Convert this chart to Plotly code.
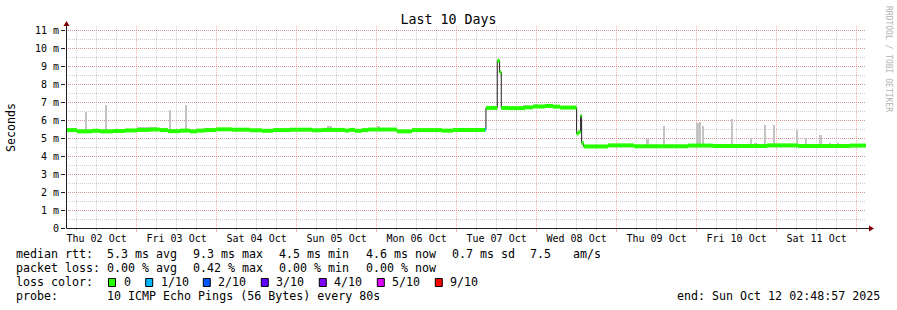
import plotly.graph_objects as go
import pandas as pd

# ---------------- data ----------------
BASE = pd.Timestamp("2025-10-02 00:00:00")
START = pd.Timestamp("2025-10-02 02:48:57")
END = pd.Timestamp("2025-10-12 02:48:57")

# median rtt steps: start (hours since Thu 02 Oct 00:00), median (ms), loss (tenths)
med_hours = [2.82, 6.1, 10.6, 13.0, 16.9, 20.5,
             24.1, 28.0, 31.0, 33.4, 37.0, 40.0, 42.1, 44.5,
             47.8, 52.6, 58.0, 61.6, 64.9, 70.0, 76.6, 79.6, 86.5, 87.7, 89.5, 91.6,
             93.4, 102.1, 106.6, 115.6, 118.9, 128.5,
             128.8, 132.2, 132.9, 133.4, 136.0, 140.5, 142.9, 146.5, 148.9, 151.0,
             156.0, 156.6, 157.2, 157.5, 158.1,
             165.4, 173.2, 189.4, 196.9, 213.1, 222.4, 238.0]
med_ms = [5.44, 5.37, 5.40, 5.37, 5.39, 5.42,
          5.45, 5.47, 5.44, 5.38, 5.41, 5.37, 5.41, 5.44,
          5.48, 5.46, 5.43, 5.40, 5.44, 5.46, 5.43, 5.45, 5.41, 5.45, 5.40, 5.44,
          5.47, 5.37, 5.44, 5.41, 5.45, 5.47,
          6.67, 9.29, 8.65, 6.67, 6.66, 6.70, 6.75, 6.78, 6.74, 6.69,
          5.25, 5.34, 6.24, 4.72, 4.53,
          4.59, 4.54, 4.58, 4.55, 4.59, 4.55, 4.58]
med_loss = [0] * len(med_ms)
med_loss[31] = 1

# smoke (ping spread): start hour, end hour, top (ms)
smoke_start = [8.8, 14.5, 33.7, 38.5, 24.1, 26.5, 43.9, 49.9, 54.7, 66.4, 73.6, 81.1,
               85.0, 96.1, 97.0, 121.0, 139.9, 143.5, 148.0, 169.9, 176.8, 181.9,
               191.8, 192.7, 193.6, 197.5, 200.2, 202.3, 208.0, 209.2, 212.5, 215.2,
               222.1, 224.8, 228.7, 232.0, 234.4, 236.5]
smoke_end = [9.1, 15.1, 34.3, 39.1, 30.1, 27.4, 48.1, 52.0, 55.6, 67.6, 75.4, 82.6,
             85.6, 97.0, 100.9, 124.0, 141.1, 144.4, 148.9, 170.8, 177.7, 182.5,
             192.7, 193.3, 194.2, 197.8, 201.1, 202.9, 208.6, 210.1, 212.8, 215.5,
             222.4, 225.1, 229.6, 232.3, 234.7, 236.8]
smoke_top = [6.42, 6.85, 6.57, 6.85, 5.59, 5.63, 5.55, 5.57, 5.57, 5.58, 5.57, 5.64,
             5.57, 5.64, 5.58, 5.56, 6.85, 6.90, 6.85, 4.69, 4.95, 5.64,
             5.83, 5.89, 5.64, 4.68, 4.68, 6.07, 4.98, 4.70, 5.74, 5.74,
             5.42, 5.00, 5.18, 4.70, 4.70, 4.68]

y_ticks = list(range(12))
y_ticktext = ["0"] + [f"{v} m" for v in range(1, 12)]

rtt_label = "median rtt:"
rtt_stats = ["5.3 ms avg", "9.3 ms max", "4.5 ms min", "4.6 ms now", "0.7 ms sd", "7.5", "am/s"]
loss_label = "packet loss:"
loss_stats = ["0.00 % avg", "0.42 % max", "0.00 % min", "0.00 % now"]
color_label = "loss color:"
loss_levels = ["0", "1/10", "2/10", "3/10", "4/10", "5/10", "9/10"]
loss_colors = ["#26ff00", "#00b8ff", "#0059ff", "#5e00ff", "#7e00ff", "#dd00ff", "#ff0000"]
probe_label = "probe:"
probe_text = "10 ICMP Echo Pings (56 Bytes) every 80s"
end_text = "end: Sun Oct 12 02:48:57 2025"

# ---------------- geometry helpers (layout only) ----------------
W, H = 897, 310
L, R, T, B = 66, 31, 26, 82
PW, PH = W - L - R, H - T - B


def px(x):
    return (x - L) / PW


def py(y):
    return (H - B - y) / PH


MONO = "DejaVu Sans Mono"
MAJ = "rgba(222,80,80,0.45)"
MIN = "rgba(143,143,143,0.42)"

fig = go.Figure()

# smoke
def med_at(h):
    v = med_ms[0]
    for hh, mv in zip(med_hours, med_ms):
        if hh <= h:
            v = mv
    return v

sx, sw, sb, sy = [], [], [], []
for s, e, top in zip(smoke_start, smoke_end, smoke_top):
    mid = (s + e) / 2
    base = med_at(mid)
    sx.append(BASE + pd.Timedelta(hours=mid))
    sw.append((e - s) * 3600 * 1000)
    sb.append(base)
    sy.append(top - base)
fig.add_trace(go.Bar(x=sx, y=sy, base=sb, width=sw, marker=dict(color="#c4c4c4", line=dict(width=0)),
                     hoverinfo="skip"))

# median dark line
times = [BASE + pd.Timedelta(hours=h) for h in med_hours] + [END]
fig.add_trace(go.Scatter(x=times, y=med_ms + [med_ms[-1]], mode="lines", line=dict(color="#202020", width=1, shape="hv"),
                         hoverinfo="skip"))

# median band coloured by loss
for lvl, col in enumerate(loss_colors):
    xs, ys = [], []
    for i, (v, ls) in enumerate(zip(med_ms, med_loss)):
        if ls != lvl:
            continue
        xs += [times[i], times[i + 1], None]
        ys += [v, v, None]
    if xs:
        fig.add_trace(go.Scatter(x=xs, y=ys, mode="lines", line=dict(color=col, width=4), hoverinfo="skip"))

fig.update_layout(
    width=W, height=H, margin=dict(l=L, r=R, t=T, b=B),
    paper_bgcolor="white", plot_bgcolor="white", showlegend=False,
    barmode="overlay", bargap=0,
    font=dict(family=MONO, size=10, color="black"),
    title=dict(text="Last 10 Days", x=0.5, xanchor="center", y=1 - 19 / H, yanchor="middle",
               font=dict(family=MONO, size=13.3, color="black")),
    xaxis=dict(type="date", range=[START, END], tick0="2025-10-02", dtick=86400000,
               ticklabelmode="period", tickformat="%a %d %b", ticklabelstandoff=-2,
               showgrid=True, gridcolor=MAJ, griddash="1px,1px", gridwidth=1,
               ticks="outside", ticklen=3, tickcolor=MAJ, showline=False, zeroline=False,
               tickfont=dict(family=MONO, size=10, color="black"),
               minor=dict(tick0="2025-10-02", dtick=21600000, showgrid=True, gridcolor=MIN,
                          griddash="1px,1px", ticks="outside", ticklen=2, tickcolor=MIN)),
    yaxis=dict(range=[0, PH / 18.0], tickvals=y_ticks, ticktext=y_ticktext,
               showgrid=True, gridcolor=MAJ, griddash="1px,1px", gridwidth=1,
               ticks="outside", ticklen=4, tickcolor="#1f1f1f", zeroline=False, showline=False,
               tickfont=dict(family=MONO, size=10, color="black"),
               minor=dict(dtick=0.5, showgrid=True, gridcolor=MIN, griddash="1px,1px")),
)

shapes = []
# axes with arrows
shapes.append(dict(type="line", xref="paper", yref="paper", x0=px(66.5), x1=px(869.5), y0=py(228.5), y1=py(228.5),
                   line=dict(color="#1f1f1f", width=1)))
shapes.append(dict(type="line", xref="paper", yref="paper", x0=px(66.5), x1=px(66.5), y0=py(228.5), y1=py(25.5),
                   line=dict(color="#1f1f1f", width=1)))
shapes.append(dict(type="path", xref="paper", yref="paper",
                   path=f"M {px(869)} {py(225.5)} L {px(874)} {py(228.5)} L {px(869)} {py(231.5)} Z",
                   fillcolor="#7f0000", line=dict(width=0)))
shapes.append(dict(type="path", xref="paper", yref="paper",
                   path=f"M {px(63.5)} {py(26)} L {px(66.5)} {py(21)} L {px(69.5)} {py(26)} Z",
                   fillcolor="#7f0000", line=dict(width=0)))

ann = []


def text(x, y, s, size=11.65, anchor="left", color="black"):
    ann.append(dict(x=px(x), y=py(y), xref="paper", yref="paper", text=s, showarrow=False,
                    xanchor=anchor, yanchor="middle", borderpad=0, borderwidth=0,
                    font=dict(family=MONO, size=size, color=color)))

# y axis title
ann.append(dict(x=px(11), y=py(127), xref="paper", yref="paper", text="Seconds", showarrow=False,
                textangle=-90, xanchor="center", yanchor="middle",
                font=dict(family=MONO, size=11.65, color="black")))
# watermark
ann.append(dict(x=px(889), y=py(59), xref="paper", yref="paper", text="RRDTOOL / TOBI OETIKER", showarrow=False,
                textangle=90, xanchor="center", yanchor="middle",
                font=dict(family=MONO, size=8, color="#b4b4b4")))

rtt_x = [107.3, 193.3, 279, 365.7, 451.7, 530, 572.7]
text(16, 254.3, rtt_label)
for xx, s in zip(rtt_x, rtt_stats):
    text(xx, 254.3, s)
text(16, 268.3, loss_label)
for xx, s in zip(rtt_x[:4], loss_stats):
    text(xx, 268.3, s)
text(16, 282.3, color_label)
box_x = [108.5, 145.7, 203.3, 261.3, 319.3, 377.3, 435.3]
for xx, s, c in zip(box_x, loss_levels, loss_colors):
    shapes.append(dict(type="rect", xref="paper", yref="paper", x0=px(xx), x1=px(xx + 7), y0=py(278.5), y1=py(286.5),
                       fillcolor=c, line=dict(color="black", width=1)))
    text(xx + 15, 282.3, s)
text(16, 296.3, probe_label)
text(107.3, 296.3, probe_text)
text(880, 296.3, end_text, anchor="right")

fig.update_layout(shapes=shapes, annotations=ann)
fig.write_html("out.html")
